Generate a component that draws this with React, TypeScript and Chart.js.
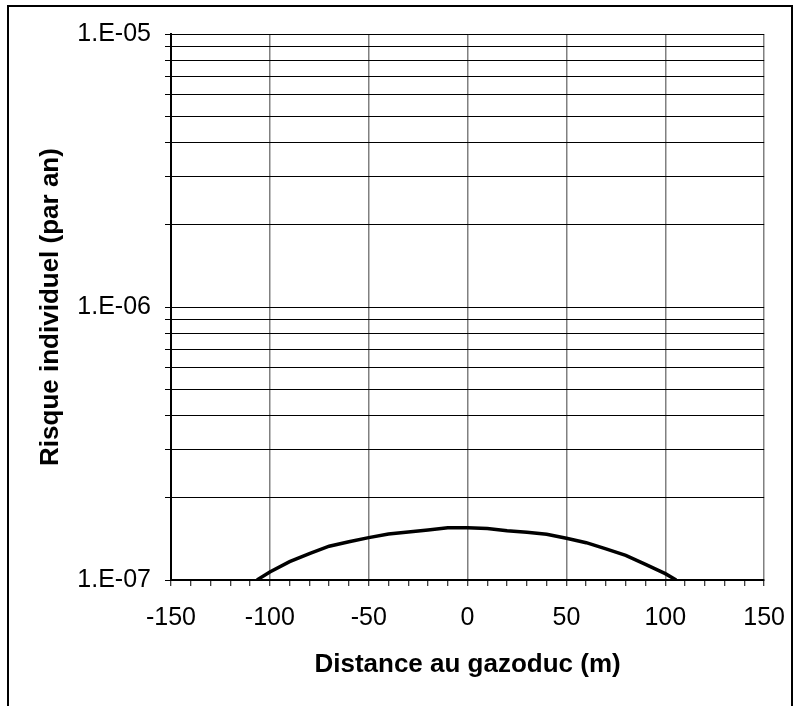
import React, { useEffect, useRef } from "react";
import { Chart, registerables } from "chart.js";

Chart.register(...registerables);

// Distance from pipeline (m) and individual risk (per year)
const DISTANCES = [-106.5, -100, -90, -80, -70, -60, -50, -40, -30, -20, -10, 0, 10, 20, 30, 40, 50, 60, 70, 80, 90, 100, 105.5];
const RISK = [
  1.0e-7, 1.07e-7, 1.167e-7, 1.25e-7, 1.33e-7, 1.38e-7, 1.43e-7, 1.475e-7, 1.5e-7, 1.524e-7, 1.553e-7,
  1.555e-7, 1.545e-7, 1.516e-7, 1.495e-7, 1.47e-7, 1.422e-7, 1.37e-7, 1.3e-7, 1.23e-7, 1.14e-7, 1.055e-7, 1.0e-7,
];

const X_LABEL_VALUES = [-150, -100, -50, 0, 50, 100, 150];
const X_TICK_LABELS = ["-150", "-100", "-50", "0", "50", "100", "150"];

const Y_GRID_VALUES = [
  1e-7, 2e-7, 3e-7, 4e-7, 5e-7, 6e-7, 7e-7, 8e-7, 9e-7,
  1e-6, 2e-6, 3e-6, 4e-6, 5e-6, 6e-6, 7e-6, 8e-6, 9e-6, 1e-5,
];
const Y_LABEL_VALUES = [1e-7, 1e-6, 1e-5];
const Y_TICK_LABELS = ["1.E-07", "1.E-06", "1.E-05"];

const X_TITLE = "Distance au gazoduc (m)";
const Y_TITLE = "Risque individuel (par an)";

const FONT = "'Liberation Sans', Arial, sans-serif";

export default function App() {
  const ref = useRef<HTMLCanvasElement | null>(null);

  useEffect(() => {
    if (!ref.current) return;
    const points = DISTANCES.map((x, i) => ({ x, y: RISK[i] }));
    const chart = new Chart(ref.current, {
      type: "line",
      data: {
        datasets: [
          {
            data: points,
            borderColor: "#000",
            borderWidth: 3.5,
            pointRadius: 0,
            tension: 0,
            fill: false,
          },
        ],
      },
      options: {
        responsive: false,
        animation: false,
        parsing: false as any,
        layout: { padding: { left: 0, top: 34, right: 36, bottom: 0 } },
        plugins: { legend: { display: false }, tooltip: { enabled: false } },
        scales: {
          x: {
            type: "linear",
            min: -150,
            max: 150,
            afterFit: (s: any) => {
              s.height = 126;
            },
            ticks: {
              stepSize: 10,
              autoSkip: false,
              maxRotation: 0,
              padding: 17,
              color: "#000",
              font: { family: FONT, size: 25 },
              callback: (v: any) => {
                const idx = X_LABEL_VALUES.indexOf(Number(v));
                return idx >= 0 ? X_TICK_LABELS[idx] : "";
              },
            },
            grid: {
              color: (ctx: any) =>
                ctx.tick && X_LABEL_VALUES.indexOf(ctx.tick.value) >= 0 ? "#808080" : "rgba(0,0,0,0)",
              lineWidth: 1.5,
              tickColor: "#000",
              tickLength: 6,
              tickWidth: 1,
            },
            border: { display: true, color: "#000", width: 2 },
            title: {
              display: true,
              text: X_TITLE,
              color: "#000",
              font: { family: FONT, size: 26, weight: "bold" },
              padding: { top: 0, bottom: 26 },
            },
          },
          y: {
            type: "logarithmic",
            min: 1e-7,
            max: 1e-5,
            afterFit: (s: any) => {
              s.width = 171;
            },
            afterBuildTicks: (s: any) => {
              s.ticks = Y_GRID_VALUES.map((value) => ({ value }));
            },
            ticks: {
              autoSkip: false,
              padding: 14,
              color: "#000",
              font: { family: FONT, size: 25 },
              callback: (v: any) => {
                const idx = Y_LABEL_VALUES.findIndex((u) => Math.abs(u - Number(v)) / u < 1e-6);
                return idx >= 0 ? Y_TICK_LABELS[idx] : "";
              },
            },
            grid: {
              color: "#000",
              lineWidth: 1,
              tickColor: "#000",
              tickLength: 6,
            },
            border: { display: true, color: "#000", width: 2 },
            title: {
              display: true,
              text: Y_TITLE,
              color: "#000",
              font: { family: FONT, size: 26, weight: "bold" },
              padding: { top: 35, bottom: 0 },
            },
          },
        },
      },
    });
    return () => chart.destroy();
  }, []);

  return (
    <div
      style={{
        position: "absolute",
        left: 0,
        top: 0,
        width: 802,
        height: 706,
        overflow: "hidden",
        background: "#fff",
      }}
    >
      <div
        style={{
          position: "absolute",
          left: 7,
          top: 5,
          width: 786,
          height: 780,
          border: "2px solid #000",
          boxSizing: "border-box",
        }}
      />
      <canvas
        ref={ref}
        width={802}
        height={706}
        style={{ position: "absolute", left: 0, top: 0, width: 802, height: 706 }}
      />
    </div>
  );
}
